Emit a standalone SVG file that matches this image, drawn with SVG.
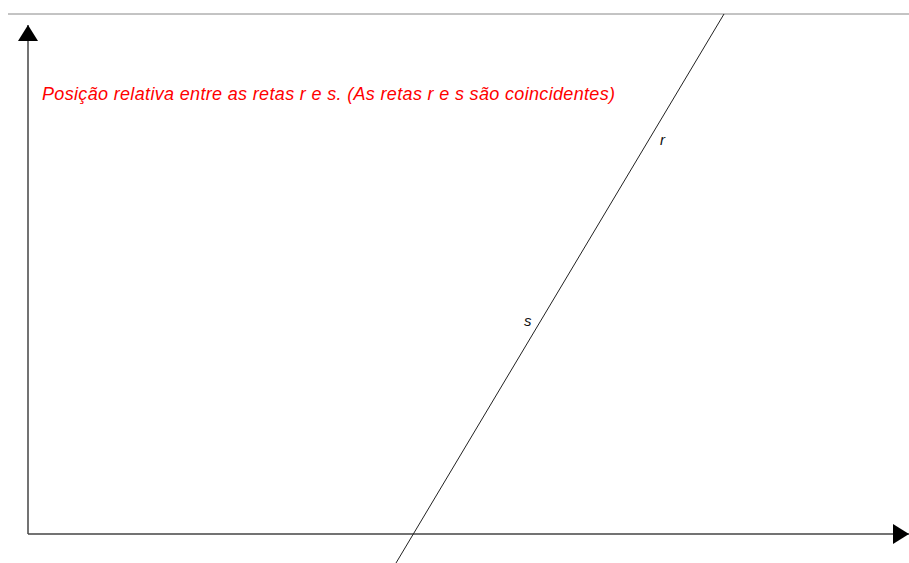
<svg xmlns="http://www.w3.org/2000/svg" width="909" height="563" viewBox="0 0 909 563">
<style>
.axis{stroke:#444;stroke-width:1.5;fill:none}
.line{stroke:#222;stroke-width:1;fill:none}
.title{font-family:"Liberation Sans",Arial,sans-serif;font-style:italic;font-size:18px;fill:#ff0000}
.lbl{font-family:"Liberation Sans",Arial,sans-serif;font-style:italic;font-size:15px;fill:#111}
</style>
<defs>
<marker id="arr" markerWidth="18" markerHeight="20" refX="16" refY="10" orient="auto" markerUnits="userSpaceOnUse">
<path d="M0,0 L16,10 L0,20 Z" fill="#000"/>
</marker>
</defs>
<rect width="909" height="563" fill="#fff"/>
<line x1="8" y1="14" x2="909" y2="14" stroke="#888" stroke-width="1"/>
<g id="connectors">
<line id="y-axis" class="axis" x1="28" y1="534" x2="28" y2="25" marker-end="url(#arr)"/>
<line id="x-axis" class="axis" x1="28" y1="534" x2="909" y2="534" marker-end="url(#arr)"/>
<line id="rs" class="line" x1="724" y1="14" x2="396" y2="563"/>
</g>
<g id="title"><text class="title" x="42" y="100" textLength="573" lengthAdjust="spacing">Posição relativa entre as retas r e s. (As retas r e s são coincidentes)</text></g>
<g id="label-r"><text class="lbl" x="660" y="145">r</text></g>
<g id="label-s"><text class="lbl" x="524" y="326">s</text></g>
</svg>
